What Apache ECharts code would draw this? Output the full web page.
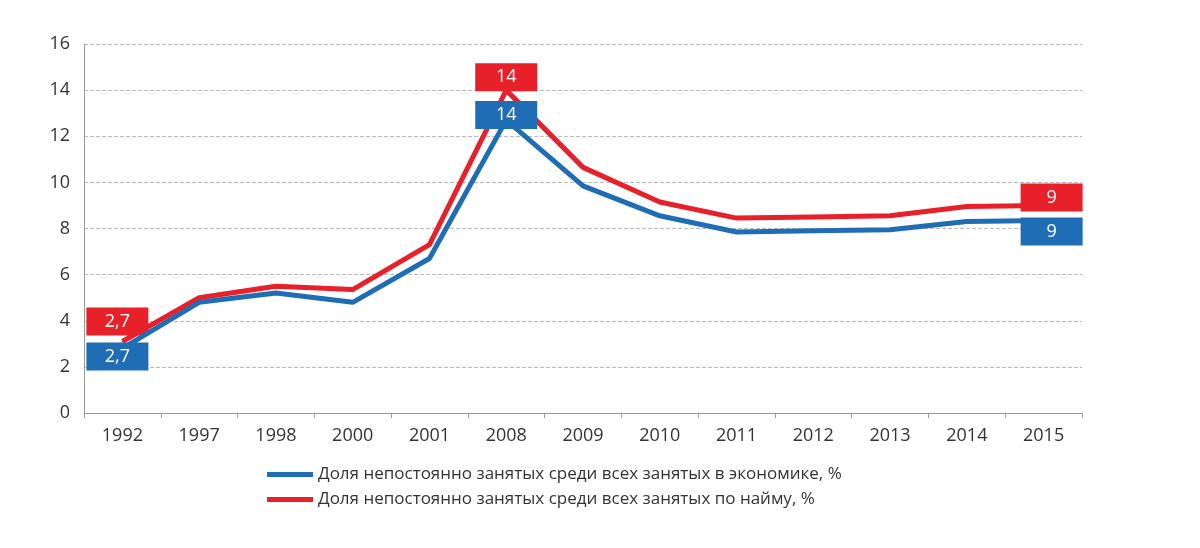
<!DOCTYPE html>
<html><head><meta charset="utf-8">
<script src="https://cdn.jsdelivr.net/npm/echarts@6/dist/echarts.min.js"></script>
<style>html,body{margin:0;padding:0;background:#fff}#c{width:1200px;height:548px}</style>
</head><body><div id="c"></div>
<script>
const years = ['1992','1997','1998','2000','2001','2008','2009','2010','2011','2012','2013','2014','2015'];
const blueVals = [2.8,4.8,5.2,4.8,6.7,12.7,9.85,8.55,7.85,7.9,7.95,8.3,8.35];
const redVals = [3.1,5.0,5.5,5.35,7.3,14.0,10.65,9.15,8.45,8.5,8.55,8.95,9.0];
const blueName = 'Доля непостоянно занятых среди всех занятых в экономике, %';
const redName = 'Доля непостоянно занятых среди всех занятых по найму, %';
const blueLabels = {0:'2,7',5:'14',12:'9'};
const redLabels = {0:'2,7',5:'14',12:'9'};
const BLUE='#1f6db5', RED='#e8202a';
function build(vals, labels, color, offs){
  return vals.map((v,i)=>{
    if(labels[i]===undefined) return {value:v,label:{show:false}};
    return {value:v,label:{show:true,formatter:labels[i],position:'inside',offset:offs[i],
      backgroundColor:color,color:'#fff',fontSize:18,fontFamily:'Open Sans',
      width:46,align:'center',padding:[5,8,5,8]}};
  });
}
const chart = echarts.init(document.getElementById('c'));
chart.setOption({
  animation:false,
  grid:{left:84,right:118,top:44,bottom:135},
  legend:{orient:'vertical',left:262,top:461,itemGap:8,itemWidth:46,itemHeight:5,
    textStyle:{fontSize:17,color:'#333',fontFamily:'Open Sans'},
    data:[{name:blueName,icon:'rect'},{name:redName,icon:'rect'}]},
  xAxis:{type:'category',data:years,
    axisLine:{lineStyle:{color:'#999'}},axisTick:{show:true,lineStyle:{color:'#999'}},
    axisLabel:{fontSize:18,color:'#333',fontFamily:'Open Sans',margin:14}},
  yAxis:{type:'value',min:0,max:16,interval:2,
    axisLine:{show:true,lineStyle:{color:'#999'}},axisTick:{show:false},
    axisLabel:{fontSize:18,color:'#333',fontFamily:'Open Sans',margin:14},
    splitLine:{lineStyle:{type:'dashed',color:'#bbb'}}},
  series:[
    {name:blueName,type:'line',symbol:'circle',symbolSize:1,showSymbol:true,z:3,lineStyle:{width:5,color:BLUE},itemStyle:{color:BLUE},
      data:build(blueVals,blueLabels,BLUE,{0:[-5,8],5:[0,-5],12:[8,11]})},
    {name:redName,type:'line',symbol:'circle',symbolSize:1,showSymbol:true,z:2,lineStyle:{width:5,color:RED},itemStyle:{color:RED},
      data:build(redVals,redLabels,RED,{0:[-5,-20],5:[0,-13],12:[8,-8]})}
  ]
});
</script></body></html>
